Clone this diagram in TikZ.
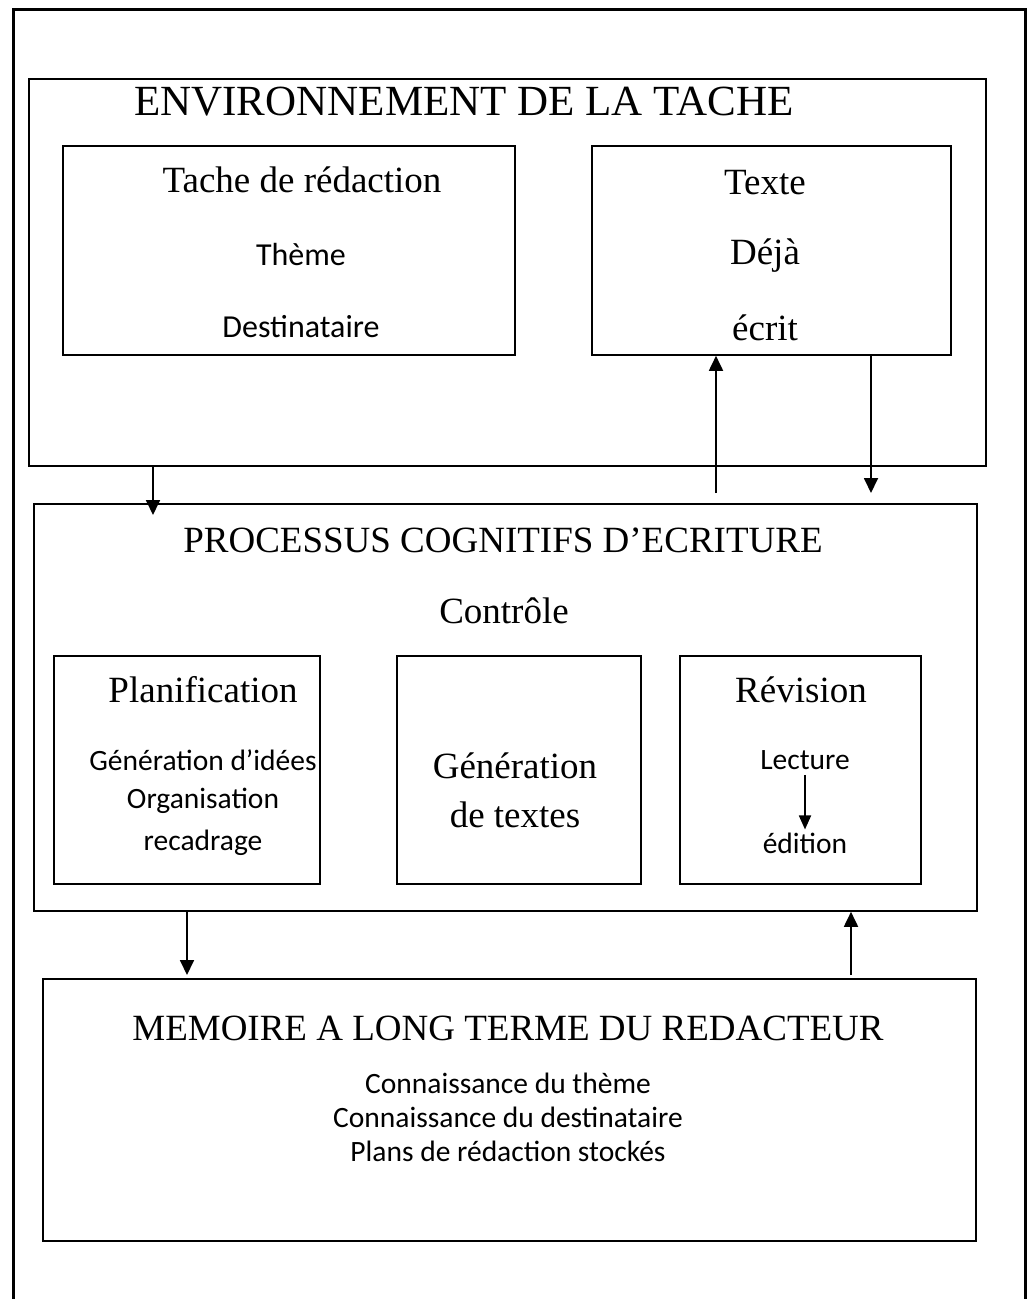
\documentclass[tikz,border=0pt]{standalone}
\usepackage{fontspec}
\setmainfont{Liberation Serif}
\newfontfamily\calib{Carlito}
\usetikzlibrary{arrows.meta}

\begin{document}
\begin{tikzpicture}[x=1pt,y=-1pt,
  box/.style={draw, line width=1.8pt, inner sep=0pt, anchor=north west},
  frame/.style={line width=3pt},
  arr/.style={line width=1.8pt, -{Triangle[width=14pt,length=15pt]}},
  smallarr/.style={line width=1.8pt, -{Triangle[width=12pt,length=14pt]}},
  ttl/.style={font=\fontsize{37}{40}\selectfont, inner sep=0pt},
  bigttl/.style={font=\fontsize{43}{46}\selectfont, inner sep=0pt},
  sub/.style={font=\calib\fontsize{29.5}{32}\selectfont, inner sep=0pt},
  bigsub/.style={font=\calib\fontsize{32}{34}\selectfont, inner sep=0pt}]
\useasboundingbox (0,0) rectangle (1029,1299);
\fill[white] (0,0) rectangle (1029,1299);

% page frame, open at the bottom
\draw[frame] (13,1299) -- (13,9) -- (1025,9) -- (1025,1299);

% boxes
\node[box, minimum width=957pt, minimum height=387pt] (env)  at (28,78) {};
\node[box, minimum width=452pt, minimum height=209pt] (task) at (62,145) {};
\node[box, minimum width=359pt, minimum height=209pt] (txt)  at (591,145) {};
\node[box, minimum width=943pt, minimum height=407pt] (proc) at (33,503) {};
\node[box, minimum width=266pt, minimum height=228pt] (plan) at (53,655) {};
\node[box, minimum width=244pt, minimum height=228pt] (gen)  at (396,655) {};
\node[box, minimum width=241pt, minimum height=228pt] (rev)  at (679,655) {};
\node[box, minimum width=933pt, minimum height=262pt] (mem)  at (42,978) {};

% texts
\node[bigttl] (envT) at (464,102) {ENVIRONNEMENT DE LA TACHE};
\node[ttl] (taskT) at (302,180) {Tache de rédaction};
\node[bigsub] (theme) at (301,254) {Thème};
\node[bigsub] (dest) at (301,327) {Destinataire};
\node[ttl] (txtA) at (765,183) {Texte};
\node[ttl] (txtB) at (765,256) {Déjà};
\node[ttl] (txtC) at (765,328) {écrit};

\node[ttl] (procT) at (503,540) {PROCESSUS COGNITIFS D’ECRITURE};
\node[ttl] (ctrl) at (504,611) {Contrôle};

\node[ttl] (planT) at (203,690) {Planification};
\node[sub] (p1) at (203,760) {Génération d’idées};
\node[sub] (p2) at (203,801) {Organisation};
\node[sub] (p3) at (203,843) {recadrage};

\node[ttl] (genA) at (515,766) {Génération};
\node[ttl] (genB) at (515,815) {de textes};

\node[ttl] (revT) at (801,690) {Révision};
\node[sub, inner sep=5pt] (lect) at (805,760) {Lecture};
\node[sub, inner sep=3pt] (edit) at (805,843) {édition};

\node[ttl] (memT) at (508,1028) {MEMOIRE A LONG TERME DU REDACTEUR};
\node[sub] (m1) at (508,1083) {Connaissance du thème};
\node[sub] (m2) at (508,1117) {Connaissance du destinataire};
\node[sub] (m3) at (508,1151) {Plans de rédaction stockés};

% connectors
\coordinate (c1) at (153,0);
\coordinate (c2) at (716,0);
\coordinate (c3) at (871,0);
\coordinate (c4) at (187,0);
\coordinate (c5) at (851,0);
\draw[arr] (env.south -| c1) -- ([yshift=-12pt]proc.north -| c1);
\draw[arr] ([yshift=10pt]proc.north -| c2) -- (txt.south -| c2);
\draw[arr] (txt.south -| c3) -- ([yshift=10pt]proc.north -| c3);
\draw[arr] (proc.south -| c4) -- ([yshift=3pt]mem.north -| c4);
\draw[arr] ([yshift=3pt]mem.north -| c5) -- (proc.south -| c5);
\draw[smallarr] (lect.south) -- (edit.north);
\end{tikzpicture}
\end{document}
